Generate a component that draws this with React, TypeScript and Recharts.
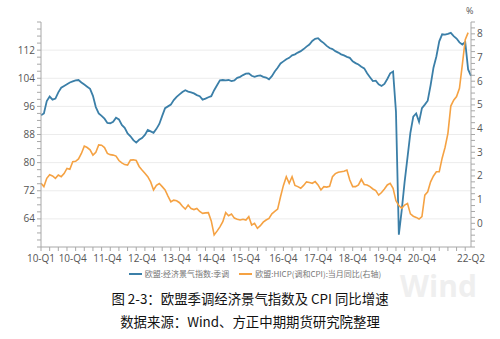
import { CartesianGrid, Line, LineChart, ReferenceLine, XAxis, YAxis } from "recharts";

const BLUE = "#3b7fa8";
const ORANGE = "#f5a243";

// 欧盟:经济景气指数:季调, monthly from 2010-01
const esi = [
  93.5, 94.0, 97.5, 98.8, 97.9, 98.2, 100.0, 101.3, 101.8, 102.3, 102.8, 103.1,
  103.4, 103.5, 102.8, 102.2, 101.6, 101.0, 99.0, 95.8, 94.0, 93.3, 92.5, 91.3,
  91.2, 91.6, 92.8, 92.3, 90.7, 89.9, 88.3, 87.5, 86.4, 85.7, 86.5, 87.0,
  87.9, 89.3, 88.9, 88.5, 89.6, 91.0, 93.3, 95.5, 96.0, 96.5, 97.8, 98.7,
  99.4, 100.1, 100.6, 100.2, 100.0, 99.7, 99.2, 98.9, 97.9, 98.2, 98.6, 98.9,
  100.6, 102.0, 103.4, 103.5, 103.4, 103.5, 103.2, 103.4, 104.1, 104.4, 104.9, 105.3,
  105.4, 104.7, 104.4, 104.7, 104.8, 104.4, 104.2, 103.7, 104.6, 105.9, 107.0, 108.2,
  108.8, 109.4, 109.8, 110.5, 110.8, 111.3, 111.7, 112.3, 113.0, 113.6, 114.6, 115.2,
  115.4, 114.6, 114.0, 113.2, 112.6, 112.3, 111.7, 111.3, 110.8, 110.5, 110.1, 109.8,
  108.8, 108.3, 107.9, 107.3, 106.8, 105.4, 104.3, 103.2, 103.3, 102.3, 101.8, 102.4,
  103.8, 105.4, 105.9, 94.5, 59.5, 66.5, 74.5, 81.5, 88.5, 93.1, 94.0, 91.6,
  95.5, 96.5, 97.6, 102.0, 107.0, 110.2, 114.5, 116.5, 116.4, 116.6, 116.9, 116.0,
  115.3, 114.2, 113.6, 114.3, 106.5, 104.7,
];

// 欧盟:HICP(调和CPI):当月同比(右轴), monthly from 2010-01
const hicp = [
  1.69, 1.55, 1.9, 2.05, 2.0, 1.9, 2.04, 1.97, 2.1, 2.32, 2.28, 2.6,
  2.62, 2.72, 2.95, 3.26, 3.2, 3.1, 2.88, 3.0, 3.31, 3.3, 3.2, 2.95,
  2.9, 2.88, 2.84, 2.65, 2.55, 2.48, 2.46, 2.67, 2.68, 2.65, 2.4, 2.25,
  2.11, 1.97, 1.75, 1.41, 1.6, 1.68, 1.55, 1.41, 1.15, 0.91, 0.98, 0.95,
  0.87, 0.72, 0.6, 0.77, 0.62, 0.58, 0.63, 0.5, 0.42, 0.44, 0.45, 0.1,
  -0.49, -0.33, -0.15, 0.07, 0.45, 0.32, 0.39, 0.22, 0.17, 0.14, 0.17, 0.14,
  0.28, -0.07, 0.0, -0.21, -0.1, 0.05, 0.14, 0.21, 0.4, 0.5, 0.6, 1.12,
  1.6, 1.97, 1.69, 1.97, 1.6, 1.55, 1.48, 1.6, 1.75, 1.72, 1.69, 1.76,
  1.62, 1.41, 1.55, 1.53, 1.56, 1.97, 2.1, 2.16, 2.18, 2.2, 2.25, 1.83,
  1.55, 1.55, 1.62, 1.86, 1.64, 1.62, 1.55, 1.45, 1.38, 1.19, 1.3, 1.45,
  1.62, 1.69, 1.48, 0.95, 0.75, 0.63, 0.77, 0.84, 0.4, 0.3, 0.25, 0.18,
  0.28, 1.19, 1.33, 1.75, 2.0, 2.18, 2.18, 2.75, 3.2, 3.8, 4.95, 5.2,
  5.35, 5.7, 6.7, 7.75, 8.05,
];

const xLabelMonths = [0, 11, 23, 35, 47, 59, 71, 84, 96, 108, 120, 132, 149];
const xLabels = ["10-Q1", "10-Q4", "11-Q4", "12-Q4", "13-Q4", "14-Q4", "15-Q4", "16-Q4", "17-Q4", "18-Q4", "19-Q4", "20-Q4", "22-Q2"];
const leftLabels = [64, 72, 80, 88, 96, 104, 112];
const rightLabels = [0, 1, 2, 3, 4, 5, 6, 7, 8];

const data = esi.map((v, i) => ({ m: i, esi: v, hicp: hicp[i] }));

const quarterTicks: number[] = [];
for (let m = 0; m <= 147; m += 3) quarterTicks.push(m);
const xTicks = Array.from(new Set([...quarterTicks, ...xLabelMonths])).sort((a, b) => a - b);

const leftTicks: number[] = [];
for (let v = 56; v <= 120; v += 2) leftTicks.push(v);
const rightTicks: number[] = [];
for (let v = -1; v <= 8.5; v += 0.25) rightTicks.push(v);

const AXIS = "#a8a8a8";
const TICK_TEXT = { fontSize: 10, fill: "#555", fontFamily: "'Open Sans', sans-serif" };

function XTick(props: any) {
  const { x, y, payload } = props;
  const v = payload.value;
  const idx = xLabelMonths.indexOf(v);
  return (
    <g>
      {v % 3 === 0 && <line x1={x} x2={x} y1={y} y2={y + 4} stroke={AXIS} />}
      {idx >= 0 && (
        <text x={x} y={y + 15} textAnchor="middle" {...TICK_TEXT}>
          {xLabels[idx]}
        </text>
      )}
    </g>
  );
}

export default function App() {
  return (
    <div style={{ position: "absolute", left: 0, top: 0, width: 500, height: 339, background: "#fff", overflow: "hidden" }}>
      <div style={{ position: "absolute", left: 400, top: 266, fontSize: 30, lineHeight: "40px", fontWeight: 700, color: "#efefef", fontFamily: "'Open Sans', sans-serif" }}>
        Wind
      </div>
      <LineChart width={500} height={339} data={data} margin={{ top: 22, right: 5, bottom: 72, left: 0 }} style={{ position: "absolute", left: 0, top: 0 }}>
        <CartesianGrid horizontal={false} vertical={false} />
        <XAxis
          dataKey="m"
          type="number"
          domain={[0, 149]}
          ticks={xTicks}
          interval={0}
          height={20}
          stroke={AXIS}
          tickSize={0}
          tickMargin={0}
          tick={<XTick />}
        />
        <YAxis
          yAxisId="left"
          domain={[56, 120]}
          ticks={leftTicks}
          interval={0}
          width={41}
          stroke={AXIS}
          tickSize={4}
          tickMargin={2}
          tick={TICK_TEXT}
          tickFormatter={(v: number) => (leftLabels.includes(v) ? String(v) : "")}
        />
        <YAxis
          yAxisId="right"
          orientation="right"
          domain={[-1, 8.5]}
          ticks={rightTicks}
          interval={0}
          width={24}
          stroke={AXIS}
          tickSize={4}
          tickMargin={2}
          tick={TICK_TEXT}
          tickFormatter={(v: number) => (rightLabels.includes(v) ? String(v) : "")}
        />
        {leftLabels.map((v) => (
          <ReferenceLine key={v} yAxisId="left" y={v} stroke="#ececec" />
        ))}
        <Line yAxisId="left" dataKey="esi" stroke={BLUE} strokeWidth={1.8} dot={false} isAnimationActive={false} />
        <Line yAxisId="right" dataKey="hicp" stroke={ORANGE} strokeWidth={1.6} dot={false} isAnimationActive={false} />
      </LineChart>
      <div style={{ position: "absolute", left: 466, top: 4, fontSize: 9, color: "#555", fontFamily: "'Open Sans', sans-serif" }}>%</div>
      <div
        style={{
          position: "absolute",
          left: 0,
          top: 268,
          width: 500,
          display: "flex",
          justifyContent: "center",
          alignItems: "center",
          fontSize: 8,
          color: "#777",
          fontFamily: "'Noto Sans CJK SC', sans-serif",
          paddingLeft: 10,
          boxSizing: "border-box",
        }}
      >
        <span style={{ display: "inline-block", width: 13, height: 2, background: BLUE, marginRight: 3 }} />
        <span style={{ marginRight: 10 }}>欧盟:经济景气指数:季调</span>
        <span style={{ display: "inline-block", width: 13, height: 2, background: ORANGE, marginRight: 3 }} />
        <span>欧盟:HICP(调和CPI):当月同比(右轴)</span>
      </div>
      <div style={{ position: "absolute", left: 0, top: 288, width: 500, textAlign: "center", fontSize: 13.4, color: "#111", fontFamily: "'Noto Sans CJK SC', sans-serif", lineHeight: "20px" }}>
        图 2-3：欧盟季调经济景气指数及 CPI 同比增速
      </div>
      <div style={{ position: "absolute", left: 0, top: 311, width: 500, textAlign: "center", fontSize: 13.4, color: "#111", fontFamily: "'Noto Sans CJK SC', sans-serif", lineHeight: "20px" }}>
        数据来源：Wind、方正中期期货研究院整理
      </div>
    </div>
  );
}
